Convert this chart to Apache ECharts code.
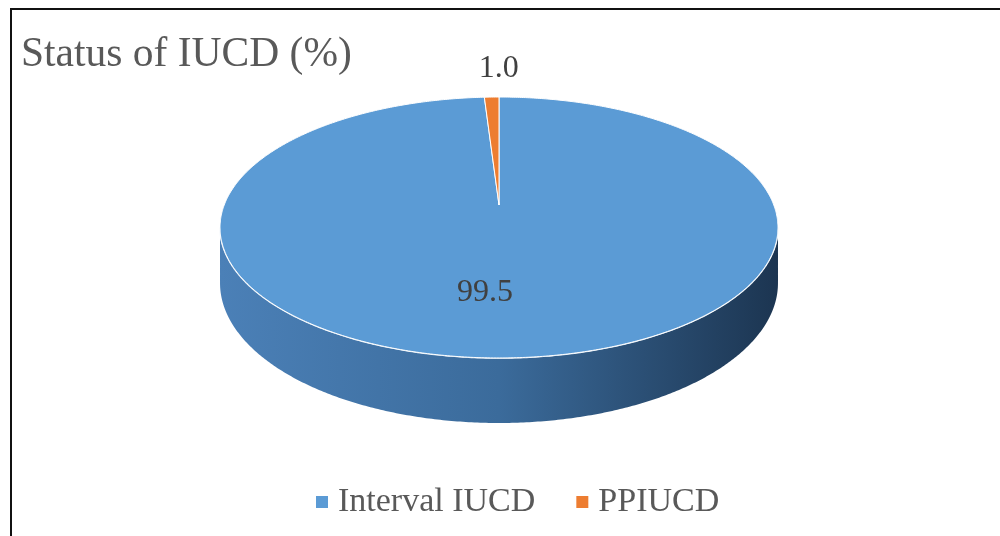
<!DOCTYPE html>
<html>
<head>
<meta charset="utf-8">
<script src="https://cdn.jsdelivr.net/npm/echarts@6/dist/echarts.min.js"></script>
<style>
  html, body { margin: 0; padding: 0; background: #ffffff; }
  #chart { width: 1000px; height: 536px; }
</style>
</head>
<body>
<div id="chart"></div>
<script>
// IUCD status shares (%)
const categories = ['Interval IUCD', 'PPIUCD'];
const shares = [99.5, 1.0];

// Slice styling
const sliceColors = ['#5B9BD5', '#ED7D31'];
const sideColors = [
  ['#4b80b7', '#3b6b9b', '#1c3551'],
  ['#c96a2c', '#a9561f', '#7a3b12']
];
// small horizontal nudges for the value labels (px)
const labelNudge = [-20, 9];

// Tilted-disc geometry (perspective projection of a flat circular pie)
const DISC = { cx: 499, cy: 205, a: 274.8, b: 126.6, p: 0.1724, depth: 53.8 };
const SERIF = '"Liberation Serif", "Times New Roman", serif';

const total = shares.reduce((s, v) => s + v, 0);
const startAngles = shares.map((_, i) =>
  2 * Math.PI * shares.slice(0, i).reduce((s, v) => s + v, 0) / total);

// angle measured clockwise from 12 o'clock, r = fraction of radius
function project(theta, r) {
  const u = r * Math.sin(theta), v = r * Math.cos(theta);
  const w = 1 + DISC.p * v;
  return [DISC.cx + DISC.a * u / w, DISC.cy - DISC.b * v / w, w];
}
// limits of the visible front wall (where the rim is vertical on screen)
const wallFrom = Math.acos(-DISC.p);
const wallTo = 2 * Math.PI - wallFrom;

function arc(t0, t1) {
  const n = Math.max(2, Math.ceil((t1 - t0) / (Math.PI / 360)));
  const pts = [];
  for (let k = 0; k <= n; k++) pts.push(t0 + (t1 - t0) * k / n);
  return pts;
}

function makeRender(idx) {
  return function (params, api) {
    const value = api.value(0);
    const t0 = startAngles[idx];
    const t1 = t0 + 2 * Math.PI * value / total;
    const children = [];

    // front wall of the slice
    const s0 = Math.max(t0, wallFrom), s1 = Math.min(t1, wallTo);
    if (s1 > s0) {
      const angs = arc(s0, s1);
      const top = angs.map(t => project(t, 1));
      const bottom = top.map(q => [q[0], q[1] + DISC.depth / q[2]]).reverse();
      const pts = top.map(q => [q[0], q[1]]).concat(bottom);
      children.push({
        type: 'polygon',
        shape: { points: pts },
        style: {
          fill: new echarts.graphic.LinearGradient(0, 0, 1, 0, [
            { offset: 0, color: sideColors[idx][0] },
            { offset: 0.5, color: sideColors[idx][1] },
            { offset: 1, color: sideColors[idx][2] }
          ])
        }
      });
      // light edge where the wall meets the top face
      children.push({
        type: 'polyline',
        shape: { points: top.map(q => [q[0], q[1]]) },
        style: { fill: null, stroke: '#f4f8fc', lineWidth: 1.6 }
      });
    }

    // top face of the slice
    const face = [project(0, 0)].concat(arc(t0, t1).map(t => project(t, 1)))
      .map(q => [q[0], q[1]]);
    children.push({
      type: 'polygon',
      shape: { points: face },
      style: { fill: sliceColors[idx], stroke: '#ffffff', lineWidth: 1, lineJoin: 'round' }
    });

    // value label
    const mid = (t0 + t1) / 2;
    let lx, ly;
    if (value / total < 0.05) {
      const rim = project(mid, 1);
      const dx = rim[0] - DISC.cx, dy = rim[1] - DISC.cy;
      const len = Math.hypot(dx, dy);
      lx = rim[0] + dx / len * 29;
      ly = rim[1] + dy / len * 29;
    } else {
      const q = project(mid, 0.62);
      lx = q[0];
      ly = q[1];
    }
    children.push({
      type: 'text',
      style: {
        text: value.toFixed(1),
        x: lx + labelNudge[idx], y: ly,
        align: 'center', verticalAlign: 'middle',
        fontFamily: SERIF, fontSize: 32, fill: '#404040'
      }
    });

    return { type: 'group', children: children };
  };
}

const chart = echarts.init(document.getElementById('chart'), null, { renderer: 'canvas' });
chart.setOption({
  animation: false,
  backgroundColor: '#ffffff',
  color: sliceColors,
  title: {
    text: 'Status of IUCD (%)',
    left: 16, top: 29,
    textStyle: { fontFamily: SERIF, fontSize: 41.5, fontWeight: 'normal', color: '#595959' }
  },
  legend: {
    data: categories,
    left: 311, top: 480,
    icon: 'rect',
    itemWidth: 12, itemHeight: 12, itemGap: 41,
    textStyle: { fontFamily: SERIF, fontSize: 34, color: '#595959', padding: [0, 0, 0, 5] }
  },
  graphic: [{
    type: 'rect',
    shape: { x: 11, y: 9, width: 1100, height: 700 },
    style: { fill: 'none', stroke: '#111111', lineWidth: 2 },
    silent: true
  }],
  series: categories.map((name, i) => ({
    type: 'custom',
    name: name,
    coordinateSystem: 'none',
    itemStyle: { color: sliceColors[i] },
    data: [[shares[i]]],
    renderItem: makeRender(i)
  }))
});
</script>
</body>
</html>
